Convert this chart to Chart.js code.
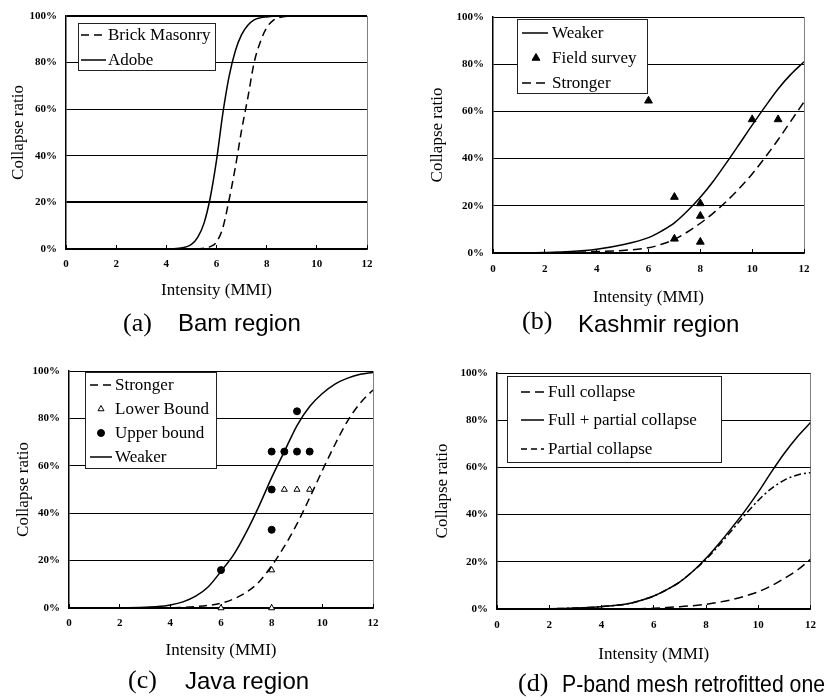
<!DOCTYPE html>
<html><head><meta charset="utf-8">
<script src="https://cdn.jsdelivr.net/npm/chart.js@4.4.1/dist/chart.umd.min.js"></script>
<style>
body{margin:0;background:#fff;width:830px;height:700px;position:relative;overflow:hidden}
.wrap{position:absolute}
.cap{position:absolute;white-space:nowrap;color:#000;line-height:1}
.pl{font-family:'Liberation Serif','Times New Roman',serif;font-size:26px}
.tx{font-family:'Liberation Sans',Arial,sans-serif;font-size:24px}
</style></head><body>
<div class="wrap" style="left:0;top:0;width:400px;height:310px"><canvas id="ca"></canvas></div>
<div class="wrap" style="left:420px;top:0;width:410px;height:315px"><canvas id="cb"></canvas></div>
<div class="wrap" style="left:0;top:350px;width:410px;height:320px"><canvas id="cc"></canvas></div>
<div class="wrap" style="left:415px;top:350px;width:415px;height:320px"><canvas id="cd"></canvas></div>

<div class="cap pl" style="left:123px;top:310px">(a)</div>
<div class="cap tx" style="left:178px;top:311px">Bam region</div>
<div class="cap pl" style="left:522px;top:308px">(b)</div>
<div class="cap tx" style="left:578px;top:312px">Kashmir region</div>
<div class="cap pl" style="left:128px;top:667px">(c)</div>
<div class="cap tx" style="left:185px;top:669px">Java region</div>
<div class="cap pl" style="left:518px;top:670px">(d)</div>
<div class="cap tx" style="left:562px;top:672px;transform:scaleX(0.884);transform-origin:0 0">P-band mesh retrofitted one</div>

<script>
// ---------- shared axis labels ----------
const xTickLabels = ['0','2','4','6','8','10','12'];
const yTickLabels = ['0%','20%','40%','60%','80%','100%'];
const xTitle = 'Intensity (MMI)';
const yTitle = 'Collapse ratio';

// ---------- (a) Bam region ----------
const bamX      = [0,1,2,3,4,4.5,5,5.25,5.5,5.75,6,6.25,6.5,6.75,7,7.25,7.5,7.75,8,8.25,8.5,9,10,11,12];
const bamAdobe  = [0,0,0,0,0,0.3,2,5,11,22,38,58,74,85,92,96,98.3,99.2,99.6,99.9,100,100,100,100,100];
const bamBrick  = [0,0,0,0,0,0,0,0.1,0.3,1,3,9,21,35,51,65,80,89,95,98,99.3,100,100,100,100];

// ---------- (b) Kashmir region ----------
const kasX        = [0,1,2,3,4,5,6,6.5,7,7.5,8,8.5,9,9.5,10,10.5,11,11.5,12];
const kasWeaker   = [0,0.04,0.2,0.6,1.6,3.5,6.5,9.3,12.8,17.8,23.6,30.4,38.1,46.1,54.2,62,69.5,75.8,81];
const kasStronger = [0,0.02,0.1,0.3,0.6,1.1,2.2,3.7,5.8,8.9,12.6,16.9,21.8,27.3,33.5,40.5,48,56,64];
const kasSurveyX  = [6,7,7,8,8,8,10,11];
const kasSurveyY  = [64.5,23.7,6,21,15.7,4.7,56.6,56.6];

// ---------- (c) Java region ----------
const javX        = [0,1,2,3,3.5,4,4.5,5,5.5,6,6.5,7,7.5,8,8.5,9,9.5,10,10.5,11,11.5,12];
const javWeaker   = [0,0,0.05,0.3,0.6,1.3,2.6,5,9,15.5,22.5,32,43,55,66,77,85,90.5,94.5,97,98.6,99.4];
const javStronger = [0,0,0,0,0,0.1,0.3,0.6,1.1,2,3.8,6.6,11,17.8,26,35.5,46.5,58,69,79,86.5,92];
const javLowerX   = [6,8,8,8.5,9,9.5];
const javLowerY   = [0,0,16,50,50,50];
const javUpperX   = [6,8,8,8,8.5,9,9.5,9];
const javUpperY   = [16,33,50,66,66,66,66,83];

// ---------- (d) P-band mesh retrofitted ----------
const pbX           = [0,1,2,3,4,5,5.5,6,6.5,7,7.5,8,8.5,9,9.5,10,10.5,11,11.5,12];
const pbFull        = [0,0,0,0,0,0,0.1,0.3,0.6,1,1.4,2,2.9,4,5.5,7.3,9.8,13,16.5,21];
const pbFullPartial = [0,0.03,0.1,0.4,1,2.2,3.6,5.5,8.2,11.5,16,21.5,27.8,34.6,41.7,49.5,58,66,73,79];
const pbPartial     = [0,0.03,0.1,0.4,1,2.2,3.6,5.5,8.2,11.5,16,21,27,33.5,40,46,51,54.6,56.8,57.8];

// ---------- helpers ----------
const pts = (xs, ys) => xs.map((x, i) => ({x: x, y: ys[i]}));
const SERIF = "'Liberation Serif','Times New Roman',serif";

function curve(label, xs, ys, dash) {
  return {label, data: pts(xs, ys), showLine: true, borderColor: '#000', backgroundColor: '#000',
    borderWidth: 1.5, borderDash: dash || [], pointRadius: 0, cubicInterpolationMode: 'monotone', fill: false};
}
function marks(label, xs, ys, style, r, fillCol) {
  return {label, data: pts(xs, ys), showLine: false, pointStyle: style, pointRadius: r,
    pointBackgroundColor: fillCol, pointBorderColor: '#000', pointBorderWidth: 1,
    borderColor: '#000', backgroundColor: fillCol, clip: false};
}

function legendPlugin(L) {
  return {
    id: 'boxLegend',
    afterDraw(chart) {
      const ctx = chart.ctx, a = chart.chartArea;
      const bx = Math.round(a.left + L.box[0]), by = Math.round(a.top + L.box[1]);
      ctx.save();
      ctx.fillStyle = '#fff';
      ctx.fillRect(bx, by, L.box[2], L.box[3]);
      ctx.strokeStyle = '#222'; ctx.lineWidth = 1;
      ctx.strokeRect(bx + 0.5, by + 0.5, L.box[2], L.box[3]);
      ctx.font = '17px ' + SERIF; ctx.textBaseline = 'middle'; ctx.textAlign = 'left';
      chart.data.datasets.forEach((ds, i) => {
        const y = by + L.rows[i];
        ctx.strokeStyle = '#000';
        if (ds.showLine) {
          ctx.lineWidth = 1.5;
          ctx.setLineDash(ds.legendDash || ds.borderDash || []);
          ctx.beginPath(); ctx.moveTo(bx + L.s0, y); ctx.lineTo(bx + L.s1, y); ctx.stroke();
          ctx.setLineDash([]);
        } else {
          ctx.fillStyle = ds.pointBackgroundColor; ctx.lineWidth = 1;
          Chart.helpers.drawPoint(ctx, {pointStyle: ds.pointStyle, radius: ds.pointRadius, borderWidth: 1, rotation: 0}, bx + L.mx, y);
        }
        ctx.fillStyle = '#000';
        ctx.fillText(ds.label, bx + L.tx, y + 1);
      });
      ctx.restore();
    }
  };
}

function makeChart(id, datasets, c) {
  return new Chart(document.getElementById(id), {
    type: 'scatter',
    data: {datasets},
    options: {
      responsive: true, maintainAspectRatio: false, animation: false,
      layout: {padding: {left: 0, top: c.padTop, right: c.padRight, bottom: 0}},
      plugins: {legend: {display: false}, tooltip: {enabled: false}},
      scales: {
        x: {
          type: 'linear', min: 0, max: 12,
          ticks: {stepSize: 2, color: '#000', padding: c.xTickPad, maxRotation: 0,
            font: {family: SERIF, size: 11, weight: 'bold'},
            callback: (v) => xTickLabels[Math.round(v / 2)]},
          grid: {color: (g) => (g.tick && g.tick.value === 12) ? '#808080' : 'rgba(0,0,0,0)',
            tickColor: '#000', tickLength: -4, lineWidth: 1},
          border: {color: '#000', width: 1.5},
          title: {display: true, text: xTitle, color: '#000', font: {family: SERIF, size: 17},
            padding: {top: 0, bottom: c.xTitlePad}},
          afterFit: (s) => { s.height = c.xH; }
        },
        y: {
          type: 'linear', min: 0, max: 100,
          ticks: {stepSize: 20, color: '#000', padding: 9,
            font: {family: SERIF, size: 11, weight: 'bold'},
            callback: (v) => yTickLabels[Math.round(v / 20)]},
          grid: {color: '#000', drawTicks: false,
            lineWidth: (g) => (c.thickGrid && g.tick && c.thickGrid.includes(g.tick.value)) ? 2 : 1},
          border: {color: '#000', width: 1.5},
          title: {display: true, text: yTitle, color: '#000', font: {family: SERIF, size: 17},
            padding: {top: c.yTitlePad, bottom: 0}},
          afterFit: (s) => { s.width = c.yW; }
        }
      }
    },
    plugins: [legendPlugin(c.legend)]
  });
}

makeChart('ca', [
  curve('Brick Masonry', bamX, bamBrick, [8, 5]),
  curve('Adobe', bamX, bamAdobe)
], {padTop: 16, padRight: 33, yW: 66, xH: 61, xTickPad: 13, xTitlePad: 9, yTitlePad: 8, thickGrid: [20, 100],
    legend: {box: [12, 7, 137, 47], rows: [12, 37], s0: 3, s1: 28, tx: 30, mx: 15}});

makeChart('cb', [
  curve('Weaker', kasX, kasWeaker),
  marks('Field survey', kasSurveyX, kasSurveyY, 'triangle', 4.5, '#000'),
  curve('Stronger', kasX, kasStronger, [9, 5])
], {padTop: 17, padRight: 26, yW: 73, xH: 62, xTickPad: 14, xTitlePad: 7, yTitlePad: 7,
    legend: {box: [24, 2, 130, 74], rows: [14, 39, 64], s0: 5, s1: 31, tx: 35, mx: 19}});

makeChart('cc', [
  curve('Stronger', javX, javStronger, [8, 5]),
  marks('Lower Bound', javLowerX, javLowerY, 'triangle', 3.5, '#fff'),
  marks('Upper bound', javUpperX, javUpperY, 'circle', 3.5, '#000'),
  curve('Weaker', javX, javWeaker)
], {padTop: 21, padRight: 37, yW: 69, xH: 62, xTickPad: 13, xTitlePad: 9, yTitlePad: 13,
    legend: {box: [16, 1, 131, 96], rows: [13, 37, 61, 85], s0: 5, s1: 27, tx: 30, mx: 16}});

makeChart('cd', [
  curve('Full collapse', pbX, pbFull, [9, 5]),
  curve('Full + partial collapse', pbX, pbFullPartial),
  Object.assign(curve('Partial collapse', pbX, pbPartial, [7, 3, 2, 3]), {legendDash: [6, 4]})
], {padTop: 23, padRight: 8, yW: 82, xH: 61, xTickPad: 14, xTitlePad: 5, yTitlePad: 17,
    legend: {box: [10, 3, 214, 86], rows: [16, 44, 73], s0: 14, s1: 37, tx: 41, mx: 25}});
</script>
</body></html>
